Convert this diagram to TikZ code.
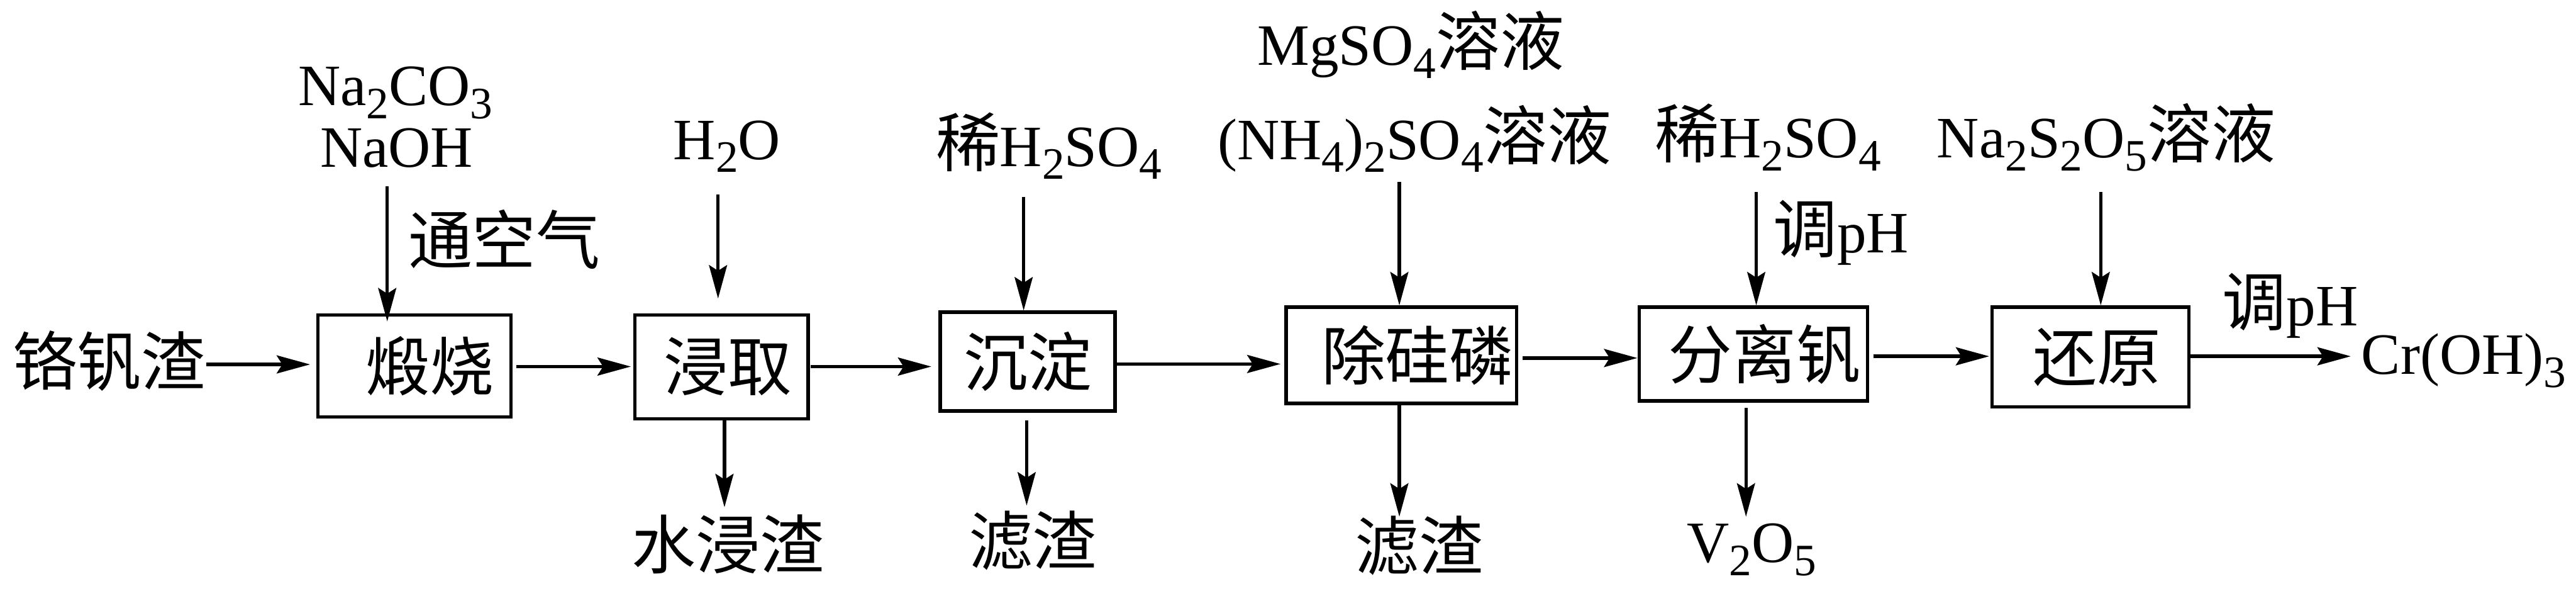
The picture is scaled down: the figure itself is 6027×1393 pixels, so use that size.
\documentclass[tikz,border=0pt]{standalone}
\usepackage{fontspec}
\setmainfont{Liberation Serif}
\newfontfamily\cjk[Scale=1.095]{Noto Sans CJK SC}
\usetikzlibrary{arrows.meta}
\newcommand\zh[1]{{\cjk #1}}
\newcommand\sub[1]{\raisebox{-3pt}{\fontsize{10.5pt}{12pt}\selectfont #1}}
\begin{document}
\begin{tikzpicture}[x={(0.1pt,0pt)}, y={(0pt,-0.1pt)},
  every node/.style={inner sep=0pt, font=\fontsize{13.7pt}{16pt}\selectfont},
  proc/.style={draw, line width=0.8pt},
  arr/.style={line width=0.8pt, -{Stealth[length=7.8pt, width=4.2pt, inset=1.3pt]}}]
\useasboundingbox (0,0) rectangle (6027,1393);
% process boxes
\node[proc, minimum width=45.2pt, minimum height=23.8pt] (b1) at (969.5,855.5) {\hspace*{7.2pt}\zh{煅烧}};
\node[proc, minimum width=40.6pt, minimum height=24.3pt] (b2) at (1688,857.5) {\hspace*{3pt}\zh{浸取}};
\node[proc, minimum width=40.9pt, minimum height=23.1pt] (b3) at (2404.5,845.5) {\zh{沉淀}};
\node[proc, minimum width=53.9pt, minimum height=22.5pt] (b4) at (3278.5,830.5) {\hspace*{7.6pt}\zh{除硅磷}};
\node[proc, minimum width=53.4pt, minimum height=21.9pt] (b5) at (4102,827.5) {\hspace*{5.2pt}\zh{分离钒}};
\node[proc, minimum width=46pt, minimum height=23.3pt] (b6) at (4891,834.5) {\hspace*{3pt}\zh{还原}};
% labels
\node (raw) at (255,844) {\zh{铬钒渣}};
\node[anchor=base] (na) at (925,247) {Na\sub{2}CO\sub{3}};
\node[anchor=base] (naoh) at (928,391) {NaOH};
\node (air) at (1180,560) {\zh{通空气}};
\node[anchor=base] (h2o) at (1701,373) {H\sub{2}O};
\node[anchor=base] (acid1) at (2454,389) {\zh{稀}H\sub{2}SO\sub{4}};
\node[anchor=base] (mg) at (3301,153) {MgSO\sub{4}\zh{溶液}};
\node[anchor=base] (nh) at (3310,373) {(NH\sub{4})\sub{2}SO\sub{4}\zh{溶液}};
\node[anchor=base] (acid2) at (4136,369) {\zh{稀}H\sub{2}SO\sub{4}};
\node[anchor=base] (ph1) at (4307,591) {\zh{调}pH};
\node[anchor=base] (nas) at (4928,369) {Na\sub{2}S\sub{2}O\sub{5}\zh{溶液}};
\node[anchor=base] (ph2) at (5358,762) {\zh{调}pH};
\node[anchor=base west] (cr) at (5523,875) {Cr(OH)\sub{3}};
\node (res1) at (1703,1273) {\zh{水浸渣}};
\node (res2) at (2416,1264) {\zh{滤渣}};
\node (res3) at (3320,1275) {\zh{滤渣}};
\node[anchor=base] (v) at (4098,1315) {V\sub{2}O\sub{5}};
% heights of horizontal connectors
\coordinate (y0) at (0,852);
\coordinate (y1) at (0,857);
\coordinate (y2) at (0,857);
\coordinate (y3) at (0,851);
\coordinate (y4) at (0,837);
\coordinate (y5) at (0,833);
\coordinate (y6) at (0,833);
% horizontal connectors
\draw[arr, shorten >=1.4pt] (raw.east |- y0) -- (b1.west |- y0);
\draw[arr, shorten <=0.8pt, shorten >=0.5pt] (b1.east |- y1) -- (b2.west |- y1);
\draw[arr, shorten <=0.2pt, shorten >=1.7pt] (b2.east |- y2) -- (b3.west |- y2);
\draw[arr, shorten >=0.9pt] (b3.east |- y3) -- (b4.west |- y3);
\draw[arr, shorten <=1.1pt] (b4.east |- y4) -- (b5.west |- y4);
\draw[arr, shorten <=1.1pt, shorten >=0.3pt] (b5.east |- y5) -- (b6.west |- y5);
\draw[arr, shorten >=2.3pt] (b6.east |- y6) -- (cr.west |- y6);
% vertical inputs
\coordinate (s1) at (906,435);
\coordinate (s2) at (1680,455);
\coordinate (s3) at (2395,460);
\coordinate (s4) at (3274,425);
\coordinate (s5) at (4109,449);
\coordinate (s6) at (4915,449);
\draw[arr, shorten >=-1.9pt] (s1) -- (s1 |- b1.north);
\draw[arr, shorten >=3.4pt] (s2) -- (s2 |- b2.north);
\draw[arr] (s3) -- (s3 |- b3.north);
\draw[arr] (s4) -- (s4 |- b4.north);
\draw[arr] (s5) -- (s5 |- b5.north);
\draw[arr] (s6) -- (s6 |- b6.north);
% vertical outputs
\coordinate (e1) at (1695,1186);
\coordinate (e2) at (2402,1182);
\coordinate (e3) at (3274,1208);
\coordinate (e4) at (4085,1208);
\draw[arr] (e1 |- b2.south) -- (e1);
\draw[arr, shorten <=1.8pt] (e2 |- b3.south) -- (e2);
\draw[arr] (e3 |- b4.south) -- (e3);
\draw[arr, shorten <=1.2pt] (e4 |- b5.south) -- (e4);
\end{tikzpicture}
\end{document}
